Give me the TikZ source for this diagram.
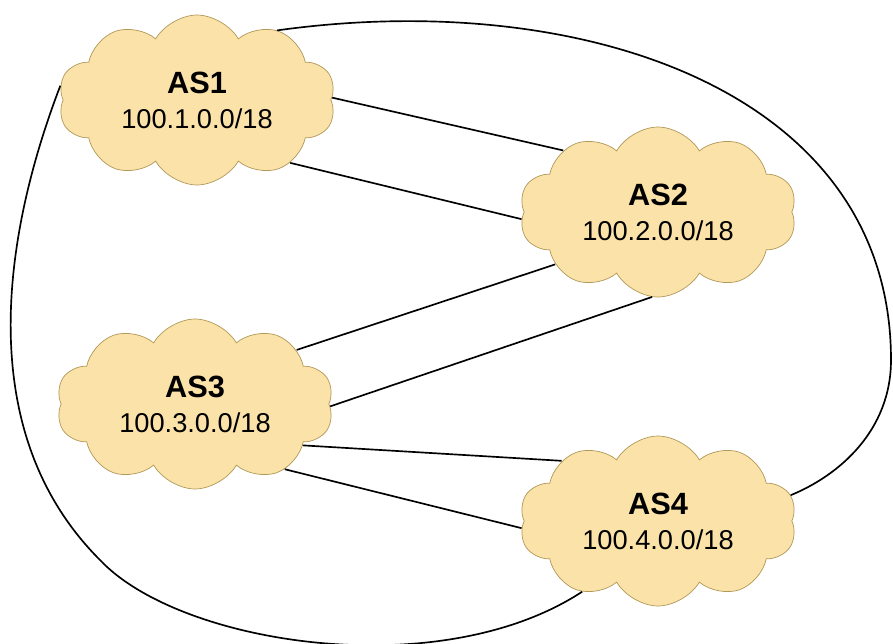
\documentclass[tikz,border=0pt]{standalone}
\usepackage{fontspec}
\setmainfont{Liberation Sans}
\usetikzlibrary{shapes.symbols}
\definecolor{cloudfill}{HTML}{FBE2A9}
\definecolor{cloudline}{HTML}{B09858}
\tikzset{
as/.style = {cloud, cloud puffs = 10, cloud puff arc = 120, cloud ignores aspect,
   draw = cloudline, fill = cloudfill, thin, minimum width = 5.55cm,
   minimum height = 3.4cm, inner sep = 0pt, align = center,
   font = \fontsize{15.5}{19}\selectfont},
link/.style = {line width = 0.95pt, black}
}

\begin{document}
\begin{tikzpicture}[x = 0.02cm, y = -0.02cm]
\useasboundingbox (0,0) rectangle (893,643);

%% Autonomous systems
\foreach \i/\x/\y in {1/197/100, 2/658/212, 3/195/404, 4/658/521} {
   \node [as] (as\i) at (\x,\y) {{\fontsize{17.5}{21}\selectfont\bfseries AS\i}\\[1pt]100.\i.0.0/18};
}

%% Direct links
\draw [link] (as1.1) -- (as2.147);
\draw [link] (as1.-34) -- (as2.-177);
\draw [link] (as3.28) -- (as2.-153);
\draw [link] (as3.-1) -- (as2.-94);
\draw [link] (as3.-21) -- (as4.148);
\draw [link] (as3.-36) -- (as4.-177);

%% Long links round the outside
\draw [link] (as1.41) .. controls (580,-12) and (891,90) .. (891,360)
   .. controls (891,430) and (840,475) .. (as4.11);
\draw [link] (as1.174) .. controls (5,230) and (-30,430) .. (100,560)
   .. controls (180,645) and (440,685) .. (as4.-137);

\end{tikzpicture}
\end{document}
